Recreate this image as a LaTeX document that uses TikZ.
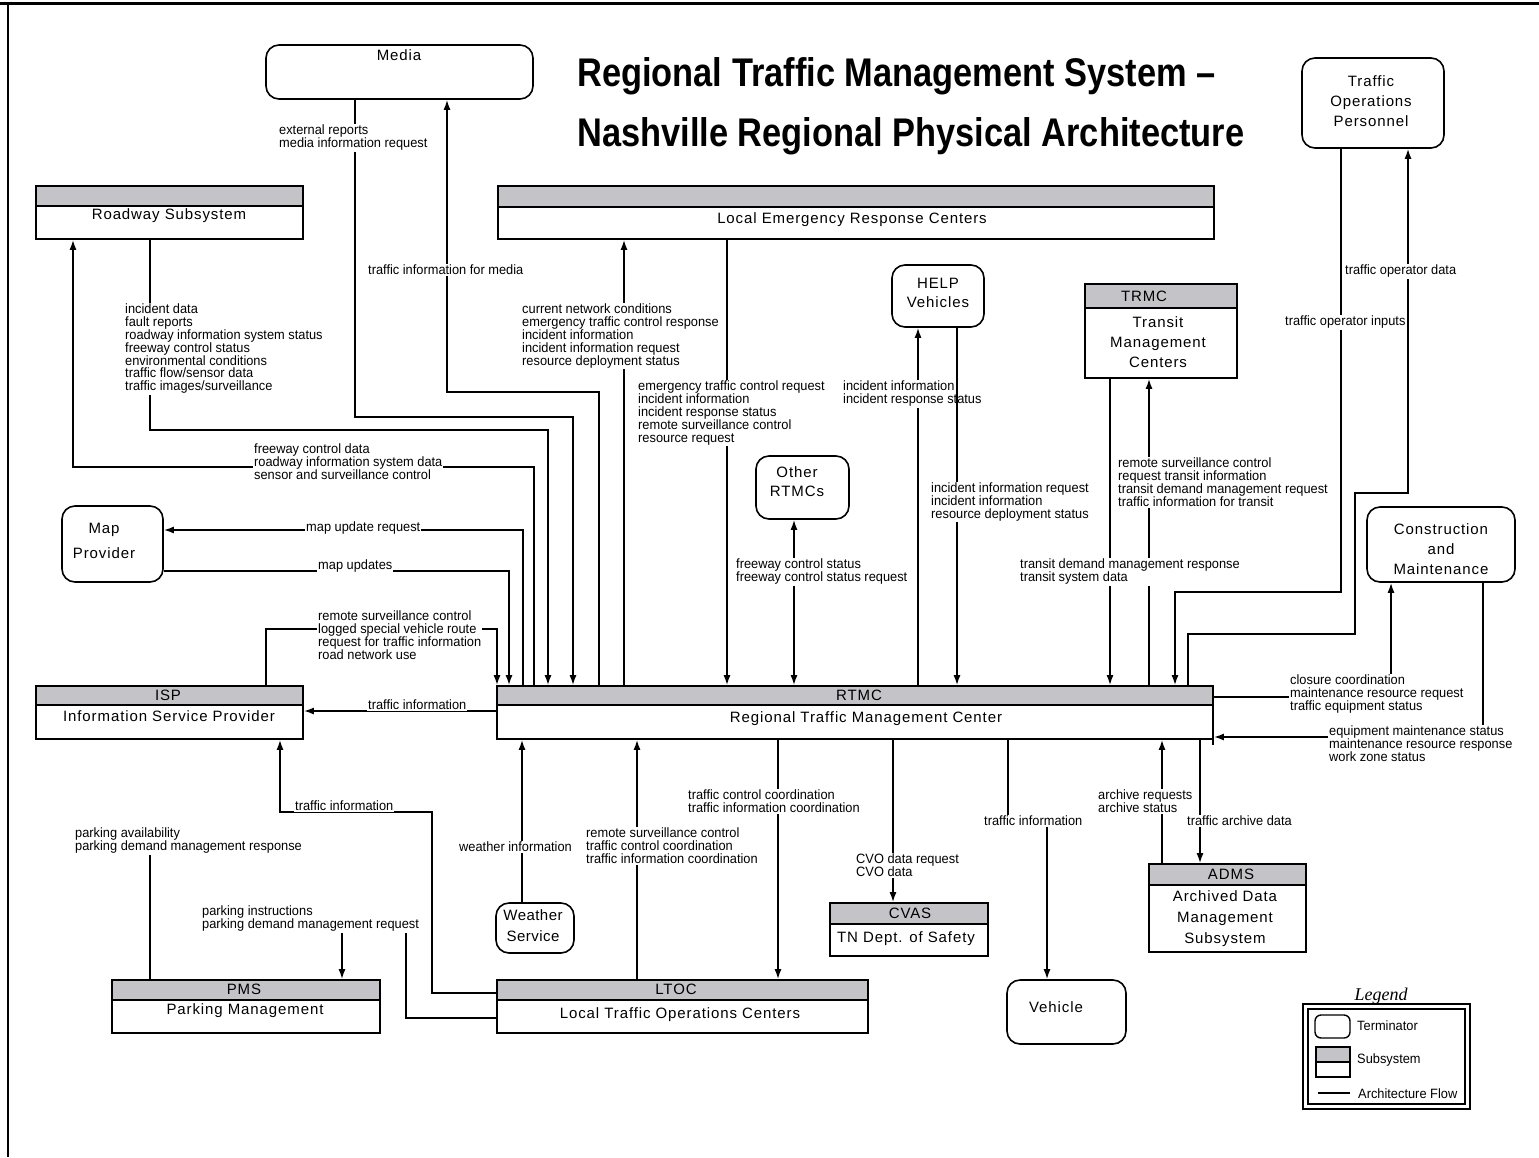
\documentclass[tikz,border=0pt]{standalone}
\usepackage{fontspec}
\setmainfont{Liberation Sans}
\newfontfamily\legendfont{Liberation Serif}
\usetikzlibrary{arrows.meta,fit}
\definecolor{hdrgray}{RGB}{196,196,200}
\newcommand\labfont{\fontsize{13.5}{12.8}\selectfont\addfontfeature{FakeStretch=0.95}}
\newcommand\boxfont{\fontsize{15}{20}\selectfont\addfontfeature{LetterSpace=6}}
\newcommand\titlefont{\fontsize{40}{44}\selectfont\bfseries\addfontfeature{FakeStretch=0.86}}
% flow label: name, left x, first-line centre y, text
\newcommand\flowlab[4]{\node[lab] (#1) at (#2,#3-6) {#4};}
\begin{document}
\begin{tikzpicture}[x=1pt,y=-1pt,
  term/.style={draw, line width=1.6pt, rounded corners=13pt, fill=white, inner sep=0pt},
  subbox/.style={draw, line width=1.7pt, fill=white, inner sep=0pt},
  hdr/.style={draw, line width=1.7pt, fill=hdrgray},
  btext/.style={font=\boxfont, align=center, inner sep=0pt},
  lab/.style={font=\labfont, align=left, anchor=north west, inner sep=1pt, fill=white},
  flow/.style={line width=1.6pt},
  arr/.style={flow, -{Latex[length=10pt,width=7pt]}},
  biarr/.style={flow, {Latex[length=10pt,width=7pt]}-{Latex[length=10pt,width=7pt]}}]
\useasboundingbox (0,0) rectangle (1539,1157);
% outer frame
\draw[line width=3pt] (0,3) -- (1539,3);
\draw[line width=2pt] (8,3) -- (8,1157);

% title
\node[font=\titlefont, anchor=west, inner sep=0pt] (title1) at (577,76) {Regional Traffic Management System –};
\node[font=\titlefont, anchor=west, inner sep=0pt] (title2) at (577,136) {Nashville Regional Physical Architecture};

% terminators
\node[term, fit={(266,45)(533,99)}] (media) {};
\node[btext] (mediaT) at (399,55) {Media};
\node[term, fit={(1302,58)(1444,148)}] (top) {};
\node[btext] (topT) at (1371,101) {Traffic\\Operations\\Personnel};
\node[term, fit={(892,265)(984,327)}] (help) {};
\node[btext, font=\fontsize{15}{19}\selectfont\addfontfeature{LetterSpace=6}] (helpT) at (938,293) {HELP\\Vehicles};
\node[term, fit={(756,456)(849,519)}] (other) {};
\node[btext, font=\fontsize{15}{19}\selectfont\addfontfeature{LetterSpace=6}] (otherT) at (797,482) {Other\\RTMCs};
\node[term, fit={(62,506)(163,582)}] (map) {};
\node[btext, font=\fontsize{15}{25}\selectfont\addfontfeature{LetterSpace=6}] (mapT) at (104,541) {Map\\Provider};
\node[term, fit={(1367,507)(1515,582)}] (cm) {};
\node[btext] (cmT) at (1441,549) {Construction\\and\\Maintenance};
\node[term, fit={(496,903)(574,953)}] (weather) {};
\node[btext, font=\fontsize{15}{21}\selectfont\addfontfeature{LetterSpace=3}] (weatherT) at (533,926) {Weather\\Service};
\node[term, fit={(1007,980)(1126,1044)}] (vehicle) {};
\node[btext] (vehicleT) at (1056,1007) {Vehicle};

% subsystems
\node[subbox, fit={(36,186)(303,239)}] (road) {};
\draw[hdr] (36,186) rectangle (303,206);
\node[btext] (roadT) at (169,216) {Roadway Subsystem};

\node[subbox, fit={(498,186)(1214,239)}] (lerc) {};
\draw[hdr] (498,186) rectangle (1214,207);
\node[btext] (lercT) at (852,220) {Local Emergency Response Centers};

\node[subbox, fit={(1085,284)(1237,378)}] (trmc) {};
\draw[hdr] (1085,284) rectangle (1237,308);
\node[btext] (trmcH) at (1144,296) {TRMC};
\node[btext] (trmcT) at (1158,342) {Transit\\Management\\Centers};

\node[subbox, fit={(36,686)(303,739)}] (isp) {};
\draw[hdr] (36,686) rectangle (303,705);
\node[btext] (ispH) at (168,695) {ISP};
\node[btext] (ispT) at (169,716) {Information Service Provider};

\node[subbox, fit={(497,686)(1213,739)}] (rtmc) {};
\draw[hdr] (497,686) rectangle (1213,705);
\node[btext] (rtmcH) at (859,695) {RTMC};
\node[btext] (rtmcT) at (866,719) {Regional Traffic Management Center};
\draw[line width=2.6pt] (1213,686) -- (1213,745);

\node[subbox, fit={(830,903)(988,956)}] (cvas) {};
\draw[hdr] (830,903) rectangle (988,924);
\node[btext] (cvasH) at (910,913) {CVAS};
\node[btext] (cvasT) at (906,939) {TN Dept. of Safety};

\node[subbox, fit={(1149,864)(1306,952)}] (adms) {};
\draw[hdr] (1149,864) rectangle (1306,885);
\node[btext] (admsH) at (1231,874) {ADMS};
\node[btext, font=\fontsize{15}{21}\selectfont\addfontfeature{LetterSpace=6}] (admsT) at (1225,919) {Archived Data\\Management\\Subsystem};

\node[subbox, fit={(112,980)(380,1033)}] (pms) {};
\draw[hdr] (112,980) rectangle (380,1000);
\node[btext] (pmsH) at (244,989) {PMS};
\node[btext] (pmsT) at (245,1011) {Parking Management};

\node[subbox, fit={(497,980)(868,1033)}] (ltoc) {};
\draw[hdr] (497,980) rectangle (868,1000);
\node[btext] (ltocH) at (676,989) {LTOC};
\node[btext] (ltocT) at (680,1015) {Local Traffic Operations Centers};

% ---- flows between Media and RTMC
\draw[arr] (355,0 |- media.south) |- (573,417) -- (573,0 |- rtmc.north);
\flowlab{lMediaIn}{278}{130}{external reports\\media information request}
\draw[arr] (599,0 |- rtmc.north) |- (447,392) -- (447,0 |- media.south);
\flowlab{lMediaOut}{367}{270}{traffic information for media}

% ---- Roadway Subsystem
\draw[arr] (150,0 |- road.south) |- (548,430) -- (548,0 |- rtmc.north);
\flowlab{lRoadIn}{124}{309}{incident data\\fault reports\\roadway information system status\\freeway control status\\environmental conditions\\traffic flow/sensor data\\traffic images/surveillance}
\draw[arr] (534,0 |- rtmc.north) |- (73,467) -- (73,0 |- road.south);
\flowlab{lRoadOut}{253}{449}{freeway control data\\roadway information system data\\sensor and surveillance control}

% ---- Map Provider
\draw[arr] (523,0 |- rtmc.north) |- (map.east |- 0,530);
\flowlab{lMapReq}{305}{527}{map update request}
\draw[arr] (map.east |- 0,571) -| (509,0 |- rtmc.north);
\flowlab{lMapUpd}{317}{565}{map updates}

% ---- ISP
\draw[arr] (266,0 |- isp.north) |- (497,629) -- (497,0 |- rtmc.north);
\flowlab{lIspIn}{317}{616}{remote surveillance control\\logged special vehicle route\\request for traffic information\\road network use}
\draw[arr] (rtmc.west |- 0,711) -- (isp.east |- 0,711);
\flowlab{lIspOut}{367}{705}{traffic information}
\draw[arr] (ltoc.west |- 0,993) -| (432,812) -| (280,0 |- isp.south);
\flowlab{lLtocIsp}{294}{806}{traffic information}

% ---- Parking Management
\coordinate (pmsEnd) at (150,845);
\draw[flow] (150,0 |- pms.north) -- (pmsEnd);
\flowlab{lPmsOut}{74}{833}{parking availability\\parking demand management response}
\draw[arr] (ltoc.west |- 0,1018) -| (406,925) -| (342,0 |- pms.north);
\flowlab{lPmsIn}{201}{911}{parking instructions\\parking demand management request}

% ---- Local Emergency Response Centers
\draw[arr] (624,0 |- rtmc.north) -- (624,0 |- lerc.south);
\flowlab{lLercOut}{521}{309}{current network conditions\\emergency traffic control response\\incident information\\incident information request\\resource deployment status}
\draw[arr] (727,0 |- lerc.south) -- (727,0 |- rtmc.north);
\flowlab{lLercIn}{637}{386}{emergency traffic control request\\incident information\\incident response status\\remote surveillance control\\resource request}

% ---- Other RTMCs
\draw[biarr] (794,0 |- other.south) -- (794,0 |- rtmc.north);
\flowlab{lOther}{735}{564}{freeway control status\\freeway control status request}

% ---- HELP Vehicles
\draw[arr] (918,0 |- rtmc.north) -- (918,0 |- help.south);
\flowlab{lHelpOut}{842}{386}{incident information\\incident response status}
\draw[arr] (957,0 |- help.south) -- (957,0 |- rtmc.north);
\flowlab{lHelpIn}{930}{488}{incident information request\\incident information\\resource deployment status}

% ---- Transit Management Centers
\draw[arr] (1149,0 |- rtmc.north) -- (1149,0 |- trmc.south);
\flowlab{lTrmcOut}{1117}{463}{remote surveillance control\\request transit information\\transit demand management request\\traffic information for transit}
\draw[arr] (1110,0 |- trmc.south) -- (1110,0 |- rtmc.north);
\flowlab{lTrmcIn}{1019}{564}{transit demand management response\\transit system data}

% ---- Traffic Operations Personnel
\draw[arr] (1341,0 |- top.south) |- (1175,592) -- (1175,0 |- rtmc.north);
\flowlab{lTopIn}{1284}{321}{traffic operator inputs}
\draw[arr] (1188,0 |- rtmc.north) |- (1355,634) |- (1408,493) -- (1408,0 |- top.south);
\flowlab{lTopOut}{1344}{270}{traffic operator data}

% ---- Construction and Maintenance
\draw[arr] (rtmc.east |- 0,697) -| (1391,0 |- cm.south);
\flowlab{lCmOut}{1289}{680}{closure coordination\\maintenance resource request\\traffic equipment status}
\draw[arr] (1483,0 |- cm.south) |- (rtmc.east |- 0,737);
\flowlab{lCmIn}{1328}{731}{equipment maintenance status\\maintenance resource response\\work zone status}

% ---- flows below the RTMC
\draw[arr] (522,0 |- weather.north) -- (522,0 |- rtmc.south);
\flowlab{lWeather}{458}{847}{weather information}
\draw[arr] (637,0 |- ltoc.north) -- (637,0 |- rtmc.south);
\flowlab{lLtocIn}{585}{833}{remote surveillance control\\traffic control coordination\\traffic information coordination}
\draw[arr] (778,0 |- rtmc.south) -- (778,0 |- ltoc.north);
\flowlab{lLtocOut}{687}{795}{traffic control coordination\\traffic information coordination}
\draw[arr] (893,0 |- rtmc.south) -- (893,0 |- cvas.north);
\flowlab{lCvas}{855}{859}{CVO data request\\CVO data}
\draw[arr] (1008,0 |- rtmc.south) |- (1047,821) -- (1047,0 |- vehicle.north);
\flowlab{lVehicle}{983}{821}{traffic information}
\draw[arr] (1162,0 |- adms.north) -- (1162,0 |- rtmc.south);
\flowlab{lAdmsIn}{1097}{795}{archive requests\\archive status}
\draw[arr] (1200,0 |- rtmc.south) -- (1200,0 |- adms.north);
\flowlab{lAdmsOut}{1186}{821}{traffic archive data}

% ---- legend
\node[font=\legendfont\itshape\fontsize{18}{18}\selectfont, inner sep=0pt] (legendT) at (1381,996) {Legend};
\node[draw, line width=2.8pt, fit={(1303,1004)(1470,1109)}, inner sep=0pt] (legend) {};
\draw[line width=1.2pt] (1308,1009) rectangle (1465,1104);
\node[term, line width=1.4pt, rounded corners=6pt, fit={(1315,1015)(1350,1038)}] (legTerm) {};
\node[subbox, line width=1.4pt, fit={(1316,1047)(1350,1077)}] (legSub) {};
\draw[hdr, line width=1.4pt] (1316,1047) rectangle (1350,1062);
\coordinate (legA) at (1318,1093);
\coordinate (legB) at (1350,1093);
\draw[flow] (legA) -- (legB);
\node[font=\labfont, anchor=west, inner sep=0pt] (legTermT) at (1357,1026) {Terminator};
\node[font=\labfont, anchor=west, inner sep=0pt] (legSubT) at (1357,1060) {Subsystem};
\node[font=\labfont, anchor=west, inner sep=0pt] (legFlowT) at (1358,1094) {Architecture Flow};
\end{tikzpicture}
\end{document}
